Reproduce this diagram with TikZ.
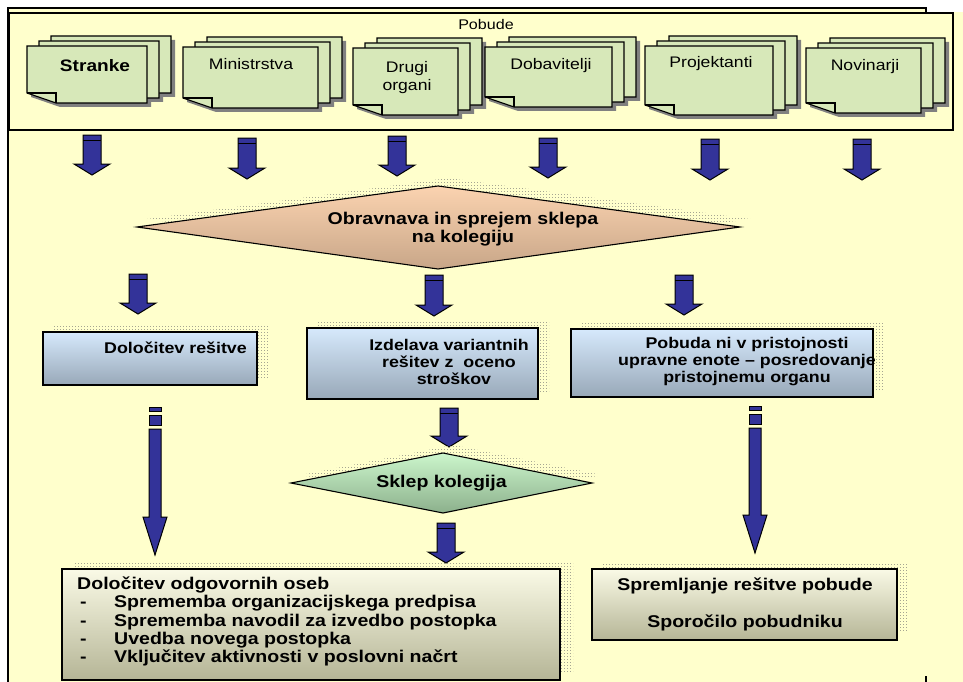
\documentclass[tikz,border=0pt]{standalone}
\usepackage{fontspec}
\setmainfont{Liberation Sans}[FakeStretch=1.15]
\definecolor{bgyel}{RGB}{255,255,204}
\definecolor{sheetgreen}{RGB}{215,232,185}
\definecolor{arrblue}{RGB}{51,51,153}
\definecolor{shgray}{RGB}{128,128,128}
\definecolor{peachtop}{RGB}{251,211,176}
\definecolor{peachbot}{RGB}{200,166,136}
\definecolor{greentop}{RGB}{204,246,204}
\definecolor{greenbot}{RGB}{140,176,140}
\definecolor{bluetop}{RGB}{214,233,252}
\definecolor{bluebot}{RGB}{152,168,184}
\definecolor{creamtop}{RGB}{250,250,230}
\definecolor{creambot}{RGB}{181,181,150}
\definecolor{dotgray}{RGB}{165,165,145}
\tikzset{
  yelfill/.style={top color=bgyel, bottom color=bgyel},
  sheet/.style={fill=sheetgreen, draw=black, line width=1.1pt, line join=miter},
  sheetline/.style={draw=black, line width=1.1pt},
  sheetshadow/.style={fill=shgray},
  arr/.style={fill=arrblue, draw=black, line width=1pt, line join=miter},
  dotrow/.style={draw=dotgray, line width=1pt, dash pattern=on 1pt off 2pt},
  bluebox/.style={draw=black, line width=1.2pt, top color=bluetop, bottom color=bluebot, inner sep=0pt},
  creambox/.style={draw=black, line width=1.2pt, top color=creamtop, bottom color=creambot, inner sep=0pt},
  btxt/.style={font=\fontsize{17}{18}\selectfont\bfseries, align=center, inner sep=0pt},
  mtxt/.style={font=\fontsize{15.5}{17}\selectfont\bfseries, align=center, inner sep=0pt},
  stxt/.style={font=\fontsize{15.3}{18}\selectfont, align=center, inner sep=0pt},
}
% dotted shadow: clip region, then rows of dots
\newcommand\dotshade[3]{% #1 clip path, #2 top y, #3 bottom y
  \begin{scope}
    \clip #1;
    \pgfmathtruncatemacro\nrows{(#3-#2)/3}
    \foreach \k in {0,...,\nrows}{\draw[dotrow] (0,{#2+3*\k}) -- (963,{#2+3*\k});}
  \end{scope}}
\newcommand\docstack[4]{%
  \foreach \dx/\dy in {24/-10,12/-5,0/0}{%
    \begin{scope}[shift={(\dx+4,\dy+4)}]
      \fill[sheetshadow] (#1,#2) -- (#3,#2) -- (#3,#4) -- ({#1+29},#4) -- (#1,{#4-10}) -- cycle;
    \end{scope}}
  \foreach \dx/\dy in {24/-10,12/-5,0/0}{%
    \begin{scope}[shift={(\dx,\dy)}]
      \filldraw[sheet] (#1,#2) -- (#3,#2) -- (#3,#4) -- ({#1+29},#4) -- (#1,{#4-10}) -- cycle;
      \draw[sheetline] (#1,{#4-10}) -- ({#1+29},{#4-10}) -- ({#1+29},#4);
    \end{scope}}}
\newcommand\blkarr[3]{%
  \filldraw[arr] ({#1-9},#2) -- ({#1+9},#2) -- ({#1+9},{#3-11}) -- ({#1+18},{#3-11}) -- (#1,#3) -- ({#1-18},{#3-11}) -- ({#1-9},{#3-11}) -- cycle;
  \draw[line width=1.8pt] ({#1-9},{#2+5.5}) -- ({#1+9},{#2+5.5});}
\newcommand\longarr[4]{% x, top, headbase, tip
  \filldraw[arr] ({#1-6},#2) rectangle ({#1+6},{#2+4});
  \filldraw[arr] ({#1-6},{#2+8}) rectangle ({#1+6},{#2+18});
  \filldraw[arr] ({#1-6},{#2+22}) -- ({#1+6},{#2+22}) -- ({#1+6},#3) -- ({#1+12},#3) -- (#1,#4) -- ({#1-12},#3) -- ({#1-6},#3) -- cycle;}
\begin{document}
\begin{tikzpicture}[x=1pt,y=-1pt]
\useasboundingbox (0,0) rectangle (963,682);
\fill[white] (0,0) rectangle (963,682);
\shade[yelfill] (8,8) rectangle (926,14);
\shade[yelfill] (8,13) rectangle (963,682);
\draw[line width=2pt] (8,682) -- (8,8) -- (926,8) -- (926,13);
\draw[line width=1.5pt] (926,676) -- (926,682);

% Pobude frame
\node[draw, line width=1.1pt, yelfill, minimum width=944pt, minimum height=117pt, inner sep=0pt] (pob) at (481,71.5) {};
\node[font=\fontsize{14}{16}\selectfont, inner sep=0pt] (pobt) at (486,24) {Pobude};

% document stacks
\docstack{27}{46}{147}{103}
\docstack{183}{47}{318}{108}
\docstack{353}{48}{458}{115}
\docstack{485}{47}{612}{107}
\docstack{645}{46}{773}{115}
\docstack{806}{48}{921}{113}
\node[font=\fontsize{16.6}{18}\selectfont\bfseries, inner sep=0pt] (s1) at (95,66) {Stranke};
\node[stxt] (s2) at (251,64) {Ministrstva};
\node[stxt] (s3) at (407,78) {Drugi\\organi};
\node[stxt] (s4) at (551,66) {Dobavitelji};
\node[stxt] (s5) at (711,64) {Projektanti};
\node[stxt] (s6) at (865,67) {Novinarji};

% top arrows
\blkarr{92}{135}{175}
\blkarr{247}{138}{179}
\blkarr{397}{136}{176}
\blkarr{548}{138}{178}
\blkarr{710}{139}{180}
\blkarr{862}{139}{180}

% diamond 1
\dotshade{(147,219) -- (448,178) -- (750,219) -- (448,261) -- cycle}{179}{260}
\path[draw=black, line width=1.1pt, top color=peachtop, bottom color=peachbot] (137,227) -- (438,186) -- (740,227) -- (438,269) -- cycle;
\node[btxt] (d1) at (463,229) {Obravnava in sprejem sklepa\\na kolegiju};

% second row arrows
\blkarr{138}{274}{314}
\blkarr{434}{275}{316}
\blkarr{684}{275}{315}

% boxes row 2
\dotshade{(54,325) rectangle (268,378)}{326}{377}
\dotshade{(318,321) rectangle (549,392)}{322}{391}
\dotshade{(582,322) rectangle (884,390)}{323}{389}
\node[bluebox, minimum width=214pt, minimum height=53pt] (b1) at (150,358.5) {};
\node[bluebox, minimum width=231pt, minimum height=71pt] (b2) at (422.5,363.5) {};
\node[bluebox, minimum width=302pt, minimum height=68pt] (b3) at (722,363) {};
\node[mtxt] (b1t) at (175.5,348) {Določitev rešitve};
\node[mtxt] (b2t) at (449,362) {Izdelava variantnih\\ rešitev z\ \ oceno\\ \ \ stroškov};
\node[mtxt] (b3t) at (747,362) {Pobuda ni v pristojnosti\\upravne enote -- posredovanje\\pristojnemu organu};

% arrow to sklep
\blkarr{449}{408}{447}

% diamond 2
\dotshade{(301,475) -- (453,445) -- (602,475) -- (453,505) -- cycle}{446}{504}
\path[draw=black, line width=1.1pt, top color=greentop, bottom color=greenbot] (291,483) -- (443,453) -- (592,483) -- (443,513) -- cycle;
\node[btxt] (d2) at (441.5,483) {Sklep kolegija};

% long arrows
\longarr{155}{407}{517}{555}
\longarr{755}{406}{515}{553}

% arrow to bottom box
\blkarr{446}{523}{563}

% bottom boxes
\dotshade{(73,562) rectangle (573,672)}{563}{671}
\dotshade{(603,563) rectangle (908,632)}{564}{631}
\node[creambox, minimum width=498pt, minimum height=111pt] (b4) at (311,624.5) {};
\node[creambox, minimum width=305pt, minimum height=71pt] (b5) at (744.5,604.5) {};
\node[font=\fontsize{17}{18.3}\selectfont\bfseries, align=left, inner sep=0pt, anchor=west] (b4t) at (77,621.5) {Določitev odgovornih oseb\\
\makebox[37pt][l]{\hspace{3pt}-}Sprememba organizacijskega predpisa\\
\makebox[37pt][l]{\hspace{3pt}-}Sprememba navodil za izvedbo postopka\\
\makebox[37pt][l]{\hspace{3pt}-}Uvedba novega postopka\\
\makebox[37pt][l]{\hspace{3pt}-}Vključitev aktivnosti v poslovni načrt};
\node[btxt] (b5t) at (745,604.5) {Spremljanje rešitve pobude\\[19pt]Sporočilo pobudniku};
\end{tikzpicture}
\end{document}
